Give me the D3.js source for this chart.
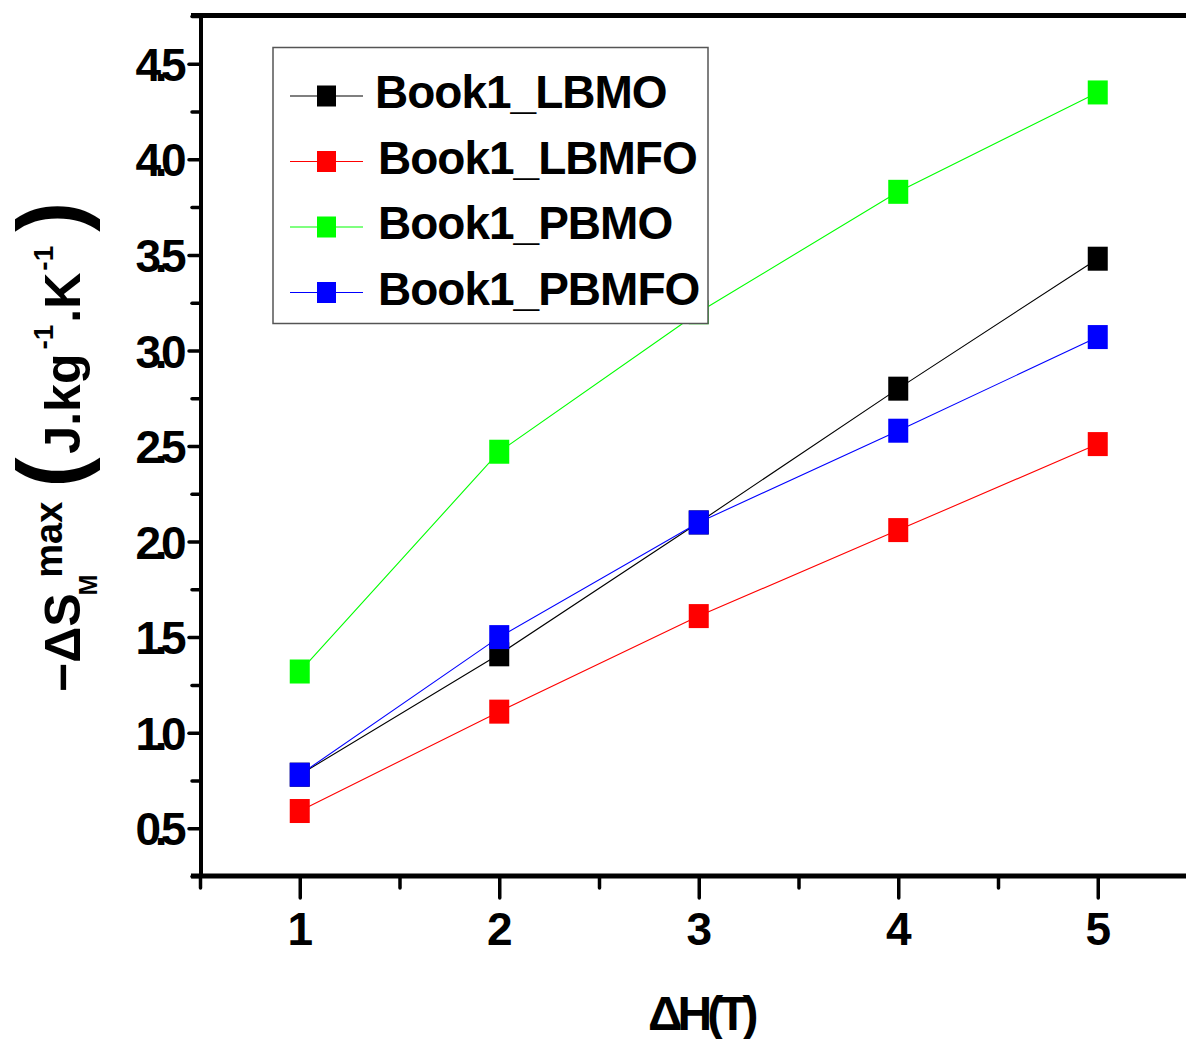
<!DOCTYPE html>
<html>
<head>
<meta charset="utf-8">
<script src="https://cdn.jsdelivr.net/npm/d3@7"></script>
<style>
  html, body { margin: 0; padding: 0; background: #fff; overflow: hidden; }
  svg { display: block; font-family: Arial, "Liberation Sans", sans-serif; }
</style>
</head>
<body>
<svg id="chart" width="1186" height="1039"></svg>
<script>
// ---- data ----
const fieldValues = [1, 2, 3, 4, 5];
const seriesNames = ["Book1_LBMO", "Book1_LBMFO", "Book1_PBMO", "Book1_PBMFO"];
const seriesColors = ["#000000", "#ff0000", "#00ff00", "#0000ff"];
const lbmoValues  = [0.78, 1.41, 2.10, 2.80, 3.48];
const lbmfoValues = [0.59, 1.11, 1.61, 2.06, 2.51];
const pbmoValues  = [1.32, 2.47, 3.20, 3.83, 4.35];
const pbmfoValues = [0.78, 1.50, 2.10, 2.58, 3.07];
const yTickValues = [0.5, 1.0, 1.5, 2.0, 2.5, 3.0, 3.5, 4.0, 4.5];
const yMinorTickValues = [0.25, 0.75, 1.25, 1.75, 2.25, 2.75, 3.25, 3.75, 4.25, 4.75];
const xTickValues = [1, 2, 3, 4, 5];
const xMinorTickValues = [0.5, 1.5, 2.5, 3.5, 4.5, 5.5];

const seriesValues = [lbmoValues, lbmfoValues, pbmoValues, pbmfoValues];
const series = seriesNames.map((name, i) => ({
  name, color: seriesColors[i],
  points: fieldValues.map((f, j) => ({ x: f, y: seriesValues[i][j] }))
}));

// ---- layout ----
const svg = d3.select("#chart");
const x = d3.scaleLinear().domain([0.5, 5.5]).range([200, 1197.5]);
const y = d3.scaleLinear().domain([0.25, 4.75]).range([876, 16]);
const FONT = 'Arial, "Liberation Sans", sans-serif';

// ---- data lines and markers ----
const line = d3.line().x(d => x(d.x)).y(d => y(d.y));
const mW = 20, mH = 24;
series.forEach(s => {
  const g = svg.append("g");
  g.append("path").datum(s.points)
    .attr("d", line).attr("fill", "none")
    .attr("stroke", s.color).attr("stroke-width", 1.1);
  g.selectAll("rect").data(s.points).join("rect")
    .attr("x", d => x(d.x) - mW / 2).attr("y", d => y(d.y) - mH / 2)
    .attr("width", mW).attr("height", mH).attr("fill", s.color);
});

// ---- axes ----
const axisG = svg.append("g");
const yAxisMajor = axisG.append("g").attr("transform", "translate(201,0)")
  .call(d3.axisLeft(y).tickValues(yTickValues).tickSize(12).tickPadding(7).tickFormat(d3.format(".1f")));
axisG.append("g").attr("transform", "translate(201,0)")
  .call(d3.axisLeft(y).tickValues(yMinorTickValues).tickSize(9).tickFormat(""));
const xAxisMajor = axisG.append("g").attr("transform", "translate(0,876)")
  .call(d3.axisBottom(x).tickValues(xTickValues).tickSize(22).tickPadding(14).tickFormat(d3.format("d")));
axisG.append("g").attr("transform", "translate(0,876)")
  .call(d3.axisBottom(x).tickValues(xMinorTickValues).tickSize(12).tickFormat(""));

axisG.selectAll(".domain").remove();
axisG.selectAll(".tick line").attr("stroke", "#000").attr("stroke-width", 3.5).attr("stroke-linecap", "round");
axisG.selectAll(".tick text")
  .attr("fill", "#000").style("font-family", FONT).style("font-weight", "bold")
  .style("font-size", "46px");
yAxisMajor.selectAll(".tick text").style("letter-spacing", "-6.5px").attr("dx", "-2px").attr("dy", "0.36em");

axisG.append("line").attr("x1", 201).attr("x2", 201).attr("y1", 15.5).attr("y2", 876)
  .attr("stroke", "#000").attr("stroke-width", 4);
axisG.append("line").attr("x1", 191).attr("x2", 1186).attr("y1", 876).attr("y2", 876)
  .attr("stroke", "#000").attr("stroke-width", 5);
axisG.append("line").attr("x1", 191).attr("x2", 1186).attr("y1", 15.5).attr("y2", 15.5)
  .attr("stroke", "#000").attr("stroke-width", 5);

// ---- x axis title ----
svg.append("text").attr("x", 648).attr("y", 1030)
  .style("font-family", FONT).style("font-weight", "bold").style("font-size", "48px")
  .style("letter-spacing", "-5px").attr("fill", "#000").text("ΔH(T)");

// ---- y axis title ----
const yt = svg.append("text")
  .attr("transform", "translate(80,692) rotate(-90)")
  .style("font-family", FONT).style("font-weight", "bold").attr("fill", "#000");
yt.append("tspan").style("font-size", "50px").text("−ΔS");
yt.append("tspan").style("font-size", "25px").attr("dy", 17).attr("dx", -2).text("M");
yt.append("tspan").style("font-size", "38px").attr("dy", -35).attr("dx", -3).text("max");
yt.append("tspan").style("font-size", "90px").attr("dy", 19).attr("dx", 14).text("(");
yt.append("tspan").style("font-size", "50px").attr("dy", -1).attr("dx", 4).text("J.kg");
yt.append("tspan").style("font-size", "28px").attr("dy", -27).attr("dx", 4).text("-1");
yt.append("tspan").style("font-size", "50px").attr("dy", 27).attr("dx", 2).text(".K");
yt.append("tspan").style("font-size", "28px").attr("dy", -27).attr("dx", 2).text("-1");
yt.append("tspan").style("font-size", "90px").attr("dy", 28).attr("dx", 14).text(")");

// ---- legend ----
const lg = svg.append("g");
lg.append("rect").attr("x", 273).attr("y", 47.5).attr("width", 435).attr("height", 276)
  .attr("fill", "#fff").attr("stroke", "#555").attr("stroke-width", 1.5);
series.forEach((s, i) => {
  const ry = 96 + i * 65.5;
  lg.append("line").attr("x1", 290).attr("x2", 363).attr("y1", ry).attr("y2", ry)
    .attr("stroke", s.color).attr("stroke-width", 1.1);
  lg.append("rect").attr("x", 317).attr("y", ry - 10.5).attr("width", 19).attr("height", 21)
    .attr("fill", s.color);
  lg.append("text").attr("x", i === 0 ? 375 : 378).attr("y", ry + 12)
    .style("font-family", FONT).style("font-weight", "bold").style("font-size", "46px")
    .style("letter-spacing", "-1px").attr("fill", "#000").text(s.name);
});
</script>
</body>
</html>
